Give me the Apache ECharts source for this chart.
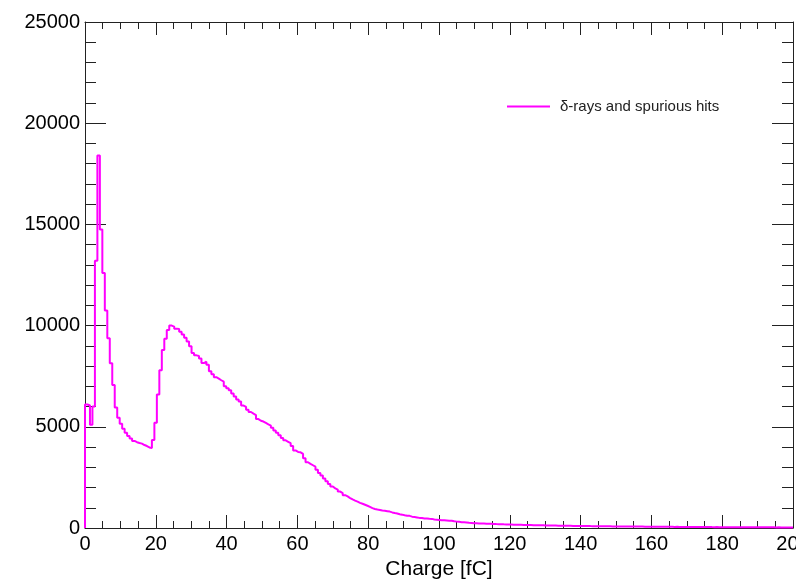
<!DOCTYPE html>
<html>
<head>
<meta charset="utf-8">
<script src="https://cdn.jsdelivr.net/npm/echarts@6/dist/echarts.min.js"></script>
<style>
html,body{margin:0;padding:0;background:#fff;overflow:hidden;}
#c{width:796px;height:579px;}
</style>
</head>
<body>
<div id="c"></div>
<script>
// Histogram: bin width (fC) and bin contents
const binWidth = 0.7;
const seriesName = 'δ-rays and spurious hits';
const xTitle = 'Charge [fC]';
const xMin = 0, xMax = 200, xStep = 20;
const yMin = 0, yMax = 25000, yStep = 5000;

// bins 0-34 (0 - 24.5 fC): spike and first bump rise
const countsPeak = [6100, 6050, 5100, 6000, 13200, 18400, 14750, 12600, 10750, 9380,
  8140, 7070, 5950, 5450, 5150, 4900, 4700, 4550, 4420, 4300,
  4240, 4200, 4170, 4100, 4050, 3980, 3950, 4350, 5200, 6600,
  7800, 8800, 9350, 9780, 10000];
// bins 35-87 (24.5 - 61.6 fC)
const countsBump = [9950, 9850, 9830, 9700, 9560, 9400, 9220, 8980, 8650, 8530,
  8500, 8380, 8150, 8220, 8060, 7750, 7600, 7450, 7380, 7300,
  7230, 7000, 6900, 6800, 6650, 6500, 6350, 6250, 6050, 5980,
  5840, 5730, 5650, 5580, 5380, 5300, 5260, 5190, 5120, 5060,
  4950, 4820, 4700, 4580, 4450, 4330, 4260, 4190, 4050, 3830,
  3760, 3740, 3660];
// bins 88-153 (61.6 - 107.8 fC)
const countsFall = [3450, 3250, 3170, 3100, 3030, 2880, 2720, 2600, 2450, 2310,
  2180, 2050, 1960, 1900, 1800, 1720, 1620, 1560, 1480, 1410,
  1350, 1300, 1240, 1200, 1150, 1100, 1040, 980, 940, 910,
  890, 860, 850, 830, 810, 770, 740, 720, 680, 660,
  630, 610, 600, 560, 540, 520, 500, 490, 470, 465,
  455, 450, 420, 410, 400, 385, 380, 370, 360, 355,
  330, 315, 305, 285, 280, 270];
// bins 154-199 (107.8 - 140 fC)
const countsTailA = [255, 248, 240, 236, 228, 222, 220, 212, 206, 204,
  198, 192, 190, 186, 180, 178, 172,
  170, 166, 164, 160, 156, 152, 150, 148, 144, 140,
  138, 136, 132, 130, 128, 126, 122, 120, 118, 116,
  114, 112, 110, 108, 106, 104, 102, 100, 98];
// bins 200-285 (140 - 200 fC)
const countsTailB = [96, 95, 100, 94, 92, 90, 88, 92, 86, 84,
  83, 82, 80, 79, 78, 76, 75, 74, 73, 72,
  71, 70, 69, 68, 70, 66, 65, 64, 63,
  62, 61, 60, 62, 59, 58, 57, 56, 55, 56,
  54, 53, 52, 51, 52, 50, 49, 48, 47, 48,
  46, 45, 46, 44, 43, 44, 42, 41, 42, 40,
  41, 39, 40, 38, 39, 37, 38, 36, 37, 35,
  36, 34, 35, 33, 34, 32, 33, 31, 32, 30,
  31, 29, 30, 28, 29, 27, 28];

const counts = [].concat(countsPeak, countsBump, countsFall, countsTailA, countsTailB);
const points = [[xMin, 0]];
counts.forEach((v, i) => points.push([xMin + i * binWidth, v]));
points.push([xMax, counts[counts.length - 1]]);

const FONT = '"Liberation Sans", Arial, Helvetica, sans-serif';
const LINE = '#222';

function xAx(pos, showLabel) {
  return {
    type: 'value', position: pos, min: xMin, max: xMax, interval: xStep,
    axisLine: {show: true, onZero: false, lineStyle: {color: LINE, width: 1}},
    axisTick: {show: true, inside: true, length: 13, lineStyle: {color: LINE, width: 1}},
    minorTick: {show: true, splitNumber: 4, length: 7, lineStyle: {color: LINE, width: 1}},
    splitLine: {show: false},
    axisLabel: {show: showLabel, fontSize: 20, color: '#000', margin: 6, fontFamily: FONT,
      formatter: v => String(v)},
    name: showLabel ? xTitle : '',
    nameLocation: 'middle', nameGap: 28,
    nameTextStyle: {fontSize: 21, color: '#000', fontFamily: FONT}
  };
}
function yAx(pos, showLabel) {
  return {
    type: 'value', position: pos, min: yMin, max: yMax, interval: yStep,
    axisLine: {show: true, onZero: false, lineStyle: {color: LINE, width: 1}},
    axisTick: {show: true, inside: true, length: 21, lineStyle: {color: LINE, width: 1}},
    minorTick: {show: true, splitNumber: 5, length: 11, lineStyle: {color: LINE, width: 1}},
    splitLine: {show: false},
    axisLabel: {show: showLabel, fontSize: 20, color: '#000', margin: 5, fontFamily: FONT,
      formatter: v => String(v)}
  };
}

const chart = echarts.init(document.getElementById('c'), null, {renderer: 'canvas'});
chart.setOption({
  animation: false,
  backgroundColor: '#fff',
  grid: {left: 85, right: 3, top: 22, bottom: 51, containLabel: false, outerBoundsMode: 'none'},
  legend: {
    data: [seriesName], left: 507, top: 99, padding: 0,
    icon: 'rect', itemWidth: 43, itemHeight: 2,
    textStyle: {fontSize: 15, color: '#222', fontFamily: FONT, padding: [0, 0, 0, 5]}
  },
  xAxis: [xAx('bottom', true), xAx('top', false)],
  yAxis: [yAx('left', true), yAx('right', false)],
  series: [{
    name: seriesName, type: 'line', step: 'end', data: points,
    xAxisIndex: 0, yAxisIndex: 0,
    showSymbol: false, symbol: 'none', clip: true,
    lineStyle: {color: '#ff00ff', width: 2},
    itemStyle: {color: '#ff00ff'}
  }]
});
</script>
</body>
</html>
